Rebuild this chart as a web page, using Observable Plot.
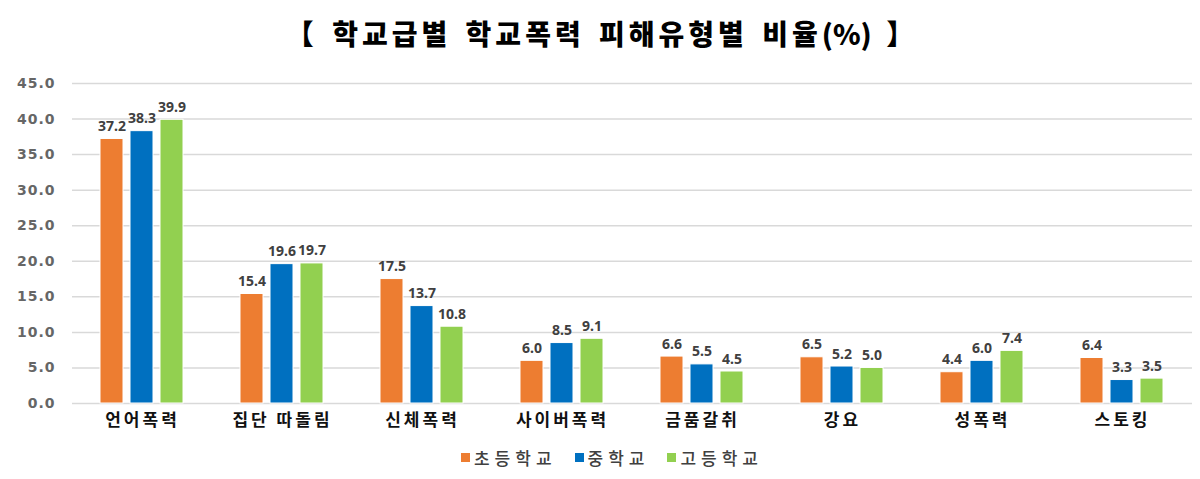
<!DOCTYPE html>
<html>
<head>
<meta charset="utf-8">
<script src="https://cdn.jsdelivr.net/npm/d3@7"></script>
<script src="https://cdn.jsdelivr.net/npm/@observablehq/plot@0.6"></script>
<style>
  html, body { margin: 0; padding: 0; background: #fff; }
  body { width: 1200px; height: 479px; overflow: hidden; font-family: "Noto Sans CJK KR", "Noto Sans", sans-serif; }
  #title { height: 66px; line-height: 66px; text-align: center; font-size: 28px; font-weight: 900; color: #000; letter-spacing: 4px; word-spacing: 4px; padding-left: 4px; }
  #title .p { letter-spacing: 0; }
  #chart svg { display: block; }
  #chart svg g[aria-label="fx-axis tick label"] text { letter-spacing: 3px; }
  #chart svg g[aria-label="y-axis tick label"] text { letter-spacing: 1px; }
  #legend { height: 38px; display: flex; justify-content: center; align-items: center; gap: 18px; font-size: 17px; font-weight: 500; color: #404040; letter-spacing: 5px; padding-left: 24px; padding-bottom: 6px; box-sizing: border-box; }
  #legend .item { display: flex; align-items: center; gap: 4px; }
  #legend .sw { width: 9px; height: 9px; display: inline-block; }
</style>
</head>
<body>
<div id="title">【 학교급별 학교폭력 피해유형별 비율<span class="p">(%)</span> 】</div>
<div id="chart"></div>
<div id="legend"></div>
<script>
const categories = ["언어폭력", "집단 따돌림", "신체폭력", "사이버폭력", "금품갈취", "강요", "성폭력", "스토킹"];
const schools = ["초등학교", "중학교", "고등학교"];
const elementary = [37.2, 15.4, 17.5, 6.0, 6.6, 6.5, 4.4, 6.4];
const middle = [38.3, 19.6, 13.7, 8.5, 5.5, 5.2, 6.0, 3.3];
const high = [39.9, 19.7, 10.8, 9.1, 4.5, 5.0, 7.4, 3.5];
const yTicks = [0, 5, 10, 15, 20, 25, 30, 35, 40, 45];
const colors = ["#ED7D31", "#0070C0", "#92D050"];

const series = [elementary, middle, high];
const data = categories.flatMap((c, i) => schools.map((s, j) => ({category: c, school: s, value: series[j][i]})));

const chart = Plot.plot({
  width: 1200,
  height: 375,
  marginTop: 17,
  marginBottom: 38,
  marginLeft: 72,
  marginRight: 8,
  style: {fontFamily: "'Noto Sans CJK KR', 'Noto Sans', sans-serif", background: "#fff"},
  fx: {domain: categories, padding: 0, label: null},
  x: {domain: schools, paddingInner: 0.2258, paddingOuter: 0.871, axis: null},
  y: {domain: [0, 45], label: null},
  color: {domain: schools, range: colors},
  marks: [
    Plot.ruleY(yTicks, {stroke: "#d9d9d9", strokeWidth: 1.5}),
    Plot.axisY({ticks: yTicks, tickFormat: d => d.toFixed(1), tickSize: 0, tickPadding: 17, fontSize: 14, fontWeight: "bold", fill: "#666", label: null, fontFamily: "'DejaVu Sans', sans-serif"}),
    Plot.axisFx({anchor: "bottom", tickSize: 0, tickPadding: 10, fontSize: 17, fontWeight: "bold", fill: "#111", label: null}),
    Plot.barY(data, {fx: "category", x: "school", y: "value", fill: "school", stroke: "white", strokeWidth: 1}),
    Plot.text(data, {fx: "category", x: "school", y: "value", text: d => d.value.toFixed(1), dy: -8, lineAnchor: "bottom", fontSize: 14, fontWeight: "bold", fill: "#404040", fontFamily: "'Noto Sans', sans-serif"})
  ]
});
document.getElementById("chart").appendChild(chart);

const legend = document.getElementById("legend");
schools.forEach((s, j) => {
  const item = document.createElement("span");
  item.className = "item";
  const sw = document.createElement("span");
  sw.className = "sw";
  sw.style.background = colors[j];
  item.appendChild(sw);
  item.appendChild(document.createTextNode(s));
  legend.appendChild(item);
});
</script>
</body>
</html>
